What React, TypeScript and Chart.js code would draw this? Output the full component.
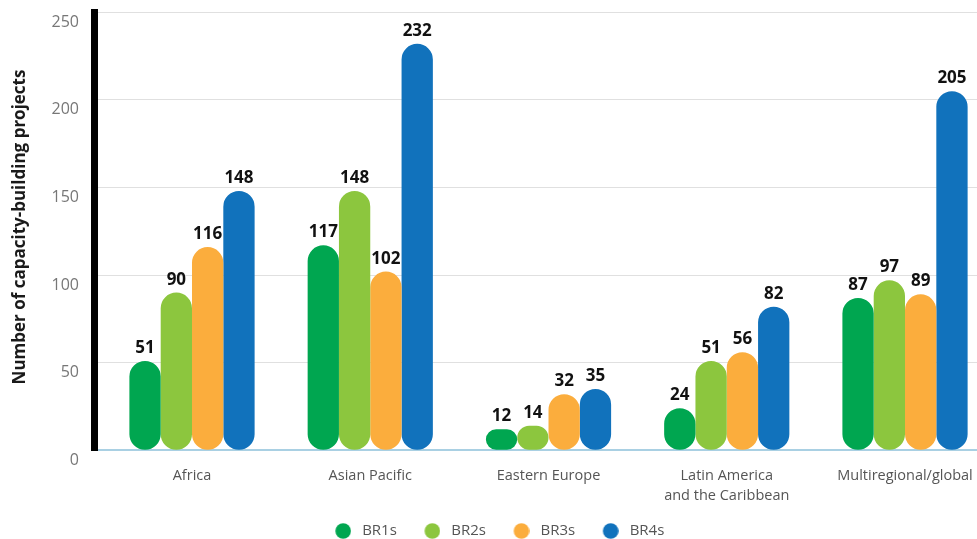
import { useEffect, useRef } from 'react';
import { Chart, registerables } from 'chart.js';

Chart.register(...registerables);

const categories: (string | string[])[] = [
  'Africa',
  'Asian Pacific',
  'Eastern Europe',
  ['Latin America', 'and the Caribbean'],
  'Multiregional/global',
];
const seriesNames = ['BR1s', 'BR2s', 'BR3s', 'BR4s'];
const br1s = [51, 117, 12, 24, 87];
const br2s = [90, 148, 14, 51, 97];
const br3s = [116, 102, 32, 56, 89];
const br4s = [148, 232, 35, 82, 205];
const seriesColors = ['#00a650', '#8cc63e', '#fbad3d', '#1172bc'];
const yTitle = 'Number of capacity-building projects';

const FONT = '"Open Sans", "Noto Sans", sans-serif';

function makeDot(color: string): HTMLCanvasElement {
  const c = document.createElement('canvas');
  c.width = 22;
  c.height = 16;
  const g = c.getContext('2d')!;
  g.fillStyle = color;
  g.beginPath();
  g.arc(14, 8, 7.8, 0, Math.PI * 2);
  g.fill();
  return c;
}

export default function App() {
  const ref = useRef<HTMLCanvasElement>(null);

  useEffect(() => {
    const canvas = ref.current!;
    const series = [br1s, br2s, br3s, br4s];
    const dots = seriesColors.map(makeDot);

    const valueLabels = {
      id: 'valueLabels',
      afterDatasetsDraw(chart: any) {
        const ctx = chart.ctx;
        ctx.save();
        ctx.font = `bold 17px ${FONT}`;
        ctx.fillStyle = '#111111';
        ctx.textAlign = 'center';
        ctx.textBaseline = 'alphabetic';
        chart.data.datasets.forEach((_: any, k: number) => {
          const meta = chart.getDatasetMeta(k);
          meta.data.forEach((bar: any, i: number) => {
            ctx.fillText(String(series[k][i]), bar.x, bar.y - 8);
          });
        });
        ctx.restore();
      },
    };

    const yTitlePlugin = {
      id: 'yTitlePlugin',
      afterDraw(chart: any) {
        const ctx = chart.ctx;
        ctx.save();
        ctx.translate(20, 227);
        ctx.rotate(-Math.PI / 2);
        ctx.font = `bold 17px ${FONT}`;
        ctx.fillStyle = '#1a1a1a';
        ctx.textAlign = 'center';
        ctx.textBaseline = 'middle';
        ctx.fillText(yTitle, 0, 0);
        ctx.restore();
      },
    };

    const chart = new Chart(canvas, {
      type: 'bar',
      data: {
        datasets: series.map((s, k) => ({
          label: seriesNames[k],
          data: s.map((v, i) => ({ x: i, y: v })),
          backgroundColor: seriesColors[k],
          borderRadius: 16,
          borderSkipped: false,
          categoryPercentage: 0.7025,
          barPercentage: 1,
        })),
      },
      options: {
        animation: false,
        responsive: false,
        devicePixelRatio: 1,
        layout: { padding: { top: 12.3, left: 0, right: 0, bottom: 1.5 } },
        plugins: {
          legend: {
            position: 'bottom',
            labels: {
              usePointStyle: true,
              pointStyleWidth: 29,
              boxHeight: 11,
              padding: 18,
              color: '#555555',
              font: { family: FONT, size: 15 },
              generateLabels: (c: any) =>
                (Chart.defaults.plugins.legend.labels.generateLabels as any)(c).map(
                  (it: any, k: number) => ({ ...it, pointStyle: dots[k] })
                ),
            },
          },
          tooltip: { enabled: false },
        },
        scales: {
          x: {
            type: 'linear',
            min: -0.5498,
            max: 4.4768,
            offset: false,
            grid: { display: false, drawTicks: false },
            border: { display: true, color: '#a9d0e3', width: 2 },
            afterBuildTicks: (s: any) => {
              s.ticks = categories.map((_, i) => ({ value: i }));
            },
            afterFit: (s: any) => {
              s.height = 55.2;
              s.paddingLeft = 0;
              s.paddingRight = 0;
            },
            ticks: {
              callback: (v: any) => categories[Math.round(Number(v))] as any,
              padding: 16,
              color: '#555555',
              maxRotation: 0,
              autoSkip: false,
              font: { family: FONT, size: 14.5, lineHeight: 20 / 14.5 },
            },
          },
          y: {
            min: 0,
            max: 250,
            ticks: {
              stepSize: 50,
              padding: 15,
              labelOffset: 10,
              color: '#777777',
              font: { family: FONT, size: 16 },
            },
            grid: {
              color: (c: any) => (c.tick && c.tick.value === 0 ? 'rgba(0,0,0,0)' : '#e0e0e0'),
              drawTicks: false,
              lineWidth: 1,
            },
            border: { display: true, color: '#000000', width: 7 },
            afterFit: (s: any) => {
              s.width = 94;
              s.paddingTop = 0;
              s.paddingBottom = 0;
            },
          },
        },
      } as any,
      plugins: [valueLabels, yTitlePlugin],
    });

    return () => chart.destroy();
  }, []);

  return (
    <div
      style={{
        position: 'absolute',
        left: 0,
        top: 0,
        width: 977,
        height: 539,
        overflow: 'hidden',
        background: '#ffffff',
      }}
    >
      <canvas ref={ref} width={990} height={550} style={{ display: 'block' }} />
    </div>
  );
}
